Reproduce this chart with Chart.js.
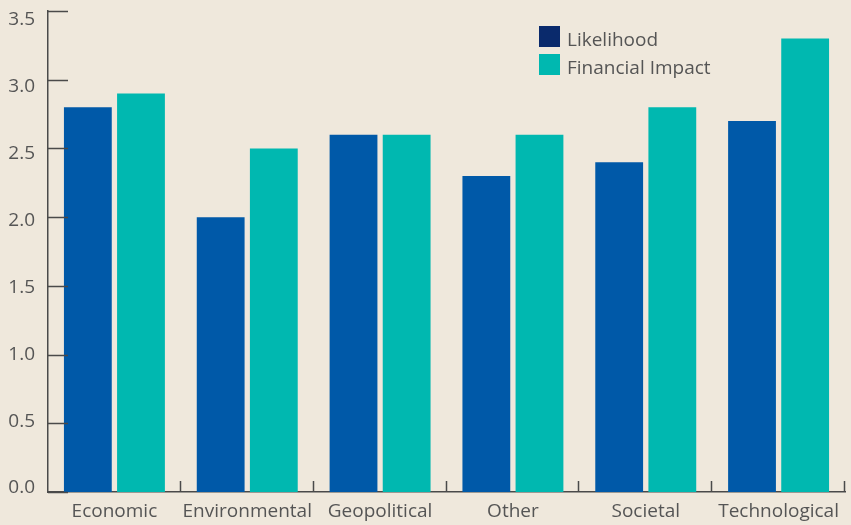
<!DOCTYPE html>
<html>
<head>
<meta charset="utf-8">
<script src="https://cdn.jsdelivr.net/npm/chart.js@4"></script>
<style>
  html, body { margin: 0; padding: 0; background: #efe8dc; }
  #wrap { width: 851px; height: 525px; }
</style>
</head>
<body>
<div id="wrap"><canvas id="risk-chart" width="851" height="525"></canvas></div>
<script>
const categories = ['Economic', 'Environmental', 'Geopolitical', 'Other', 'Societal', 'Technological'];
const likelihood = [2.8, 2.0, 2.6, 2.3, 2.4, 2.7];
const financialImpact = [2.9, 2.5, 2.6, 2.6, 2.8, 3.3];
const yTicks = [0, 0.5, 1.0, 1.5, 2.0, 2.5, 3.0, 3.5];

const axisColor = '#4a4a4a';
const textColor = '#555555';
const fontFamily = '"Open Sans", Lato, sans-serif';

// short tick marks drawn inside the plot, plus the legend block
const axisMarks = {
    id: 'axisMarks',
    afterDraw(chart) {
        const ctx = chart.ctx;
        const x = chart.scales.x;
        const y = chart.scales.y;
        ctx.save();
        ctx.strokeStyle = axisColor;
        ctx.lineWidth = 1.5;
        ctx.beginPath();
        yTicks.forEach(v => {
            const py = Math.round(y.getPixelForValue(v)) + 0.5;
            ctx.moveTo(y.right, py);
            ctx.lineTo(y.right + 20, py);
        });
        const step = (x.right - x.left) / categories.length;
        for (let i = 1; i <= categories.length; i++) {
            const px = Math.round(x.left + step * i) - 0.5;
            ctx.moveTo(px, x.top);
            ctx.lineTo(px, x.top - 11);
        }
        ctx.stroke();

        const items = [
            { label: 'Likelihood', color: '#0a2a6c' },
            { label: 'Financial Impact', color: '#00b8b0' }
        ];
        ctx.font = '19px ' + fontFamily;
        ctx.textBaseline = 'middle';
        items.forEach((it, i) => {
            const top = 26 + i * 28;
            ctx.fillStyle = it.color;
            ctx.fillRect(539, top, 21, 21);
            ctx.fillStyle = textColor;
            ctx.fillText(it.label, 567, top + 15);
        });
        ctx.restore();
    }
};

const ctx = document.getElementById('risk-chart').getContext('2d');
new Chart(ctx, {
    type: 'bar',
    data: {
        labels: categories,
        datasets: [
            {
                label: 'Likelihood',
                data: likelihood,
                backgroundColor: '#0059a8',
                categoryPercentage: 0.8,
                barPercentage: 0.9
            },
            {
                label: 'Financial Impact',
                data: financialImpact,
                backgroundColor: '#00b8b0',
                categoryPercentage: 0.8,
                barPercentage: 0.9
            }
        ]
    },
    options: {
        responsive: false,
        animation: false,
        layout: { padding: { top: 11, right: 6, left: 0, bottom: 0 } },
        plugins: {
            legend: { display: false },
            tooltip: { enabled: false }
        },
        scales: {
            x: {
                grid: { display: false, drawTicks: false },
                border: { display: true, color: axisColor, width: 1.5 },
                ticks: {
                    color: textColor,
                    padding: 8,
                    maxRotation: 0,
                    minRotation: 0,
                    autoSkip: false,
                    font: { family: fontFamily, size: 19 }
                },
                afterFit(scale) {
                    scale.height = 33;
                    scale.paddingLeft = 0;
                    scale.paddingRight = 0;
                }
            },
            // value axis: carries the bars and the axis line only
            y: {
                min: 0,
                max: 3.5,
                weight: 0,
                afterBuildTicks(scale) {
                    scale.ticks = yTicks.map(v => ({ value: v }));
                },
                grid: { display: false, drawTicks: false },
                border: { display: true, color: axisColor, width: 1.5 },
                ticks: { display: false },
                afterFit(scale) {
                    scale.width = 0;
                    scale.paddingTop = 0;
                    scale.paddingBottom = 0;
                }
            },
            // label axis: the tick labels sit on a slightly tighter spread
            yLabels: {
                type: 'linear',
                position: 'left',
                weight: 1,
                min: -0.03,
                max: 3.567,
                afterBuildTicks(scale) {
                    scale.ticks = yTicks.map(v => ({ value: v }));
                },
                grid: { display: false, drawTicks: false },
                border: { display: false },
                ticks: {
                    color: textColor,
                    padding: 13,
                    font: { family: fontFamily, size: 19 },
                    callback: v => Number(v).toFixed(1)
                },
                afterFit(scale) {
                    scale.width = 48;
                    scale.paddingTop = 0;
                    scale.paddingBottom = 0;
                }
            }
        }
    },
    plugins: [axisMarks]
});
</script>
</body>
</html>
